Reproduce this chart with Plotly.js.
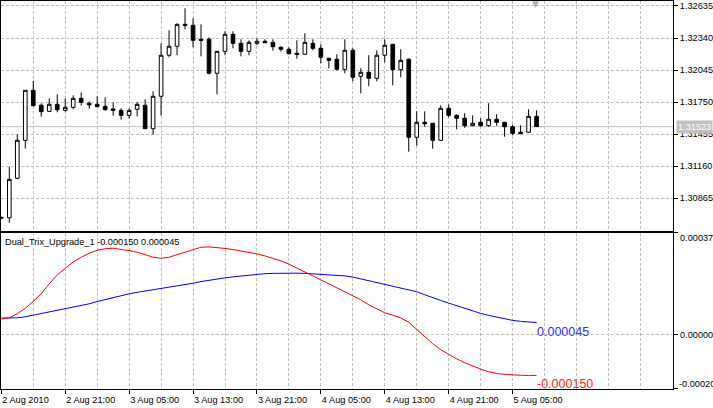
<!DOCTYPE html>
<html>
<head>
<meta charset="utf-8">
<script src="https://cdn.plot.ly/plotly-3.0.1.min.js"></script>
<style>
html,body{margin:0;padding:0;background:#fff;}
#chart{width:713px;height:408px;}
</style>
</head>
<body>
<div id="chart"></div>
<script>
// ---- data (H1 bars, 2 Aug 2010 13:00 .. 5 Aug 2010 08:00) ----
const barIndex = Array.from({length: 68}, (_, i) => i);

const openP = [
1.30687, 1.30683, 1.31047, 1.31397, 1.31858, 1.31720, 1.31664, 1.31729, 1.31673, 1.31701,
1.31784, 1.31738, 1.31729, 1.31710, 1.31686, 1.31673, 1.31627, 1.31683, 1.31720, 1.31504,
1.31803, 1.32181, 1.32264, 1.32466, 1.32457, 1.32328, 1.32328, 1.32015, 1.32217, 1.32374,
1.32291, 1.32217, 1.32291, 1.32310, 1.32300, 1.32254, 1.32236, 1.32199, 1.32190, 1.32291,
1.32245, 1.32153, 1.32144, 1.32051, 1.32227, 1.31987, 1.32024, 1.31969, 1.32181, 1.32282,
1.32048, 1.32144, 1.31425, 1.31563, 1.31554, 1.31397, 1.31692, 1.31627, 1.31600, 1.31532,
1.31563, 1.31532, 1.31591, 1.31563, 1.31522, 1.31471, 1.31471, 1.31618];

const highP = [
1.30694, 1.31154, 1.31452, 1.31860, 1.31944, 1.31738, 1.31784, 1.31821, 1.31780, 1.31812,
1.31839, 1.31756, 1.31803, 1.31793, 1.31747, 1.31692, 1.31692, 1.31747, 1.31775, 1.31849,
1.32291, 1.32411, 1.32474, 1.32614, 1.32522, 1.32466, 1.32347, 1.32220, 1.32402, 1.32402,
1.32328, 1.32319, 1.32337, 1.32328, 1.32328, 1.32264, 1.32254, 1.32319, 1.32383, 1.32328,
1.32282, 1.32156, 1.32190, 1.32328, 1.32245, 1.32061, 1.32181, 1.32227, 1.32328, 1.32285,
1.32236, 1.32153, 1.31664, 1.31664, 1.31556, 1.31720, 1.31729, 1.31637, 1.31646, 1.31627,
1.31600, 1.31738, 1.31637, 1.31566, 1.31541, 1.31535, 1.31683, 1.31673];

const lowP = [
1.30671, 1.30637, 1.31040, 1.31320, 1.31713, 1.31615, 1.31660, 1.31655, 1.31661, 1.31683,
1.31716, 1.31688, 1.31702, 1.31670, 1.31624, 1.31587, 1.31596, 1.31618, 1.31501, 1.31449,
1.31624, 1.32162, 1.32181, 1.32420, 1.32254, 1.32171, 1.32005, 1.31821, 1.32181, 1.32245,
1.32171, 1.32181, 1.32273, 1.32291, 1.32223, 1.32214, 1.32190, 1.32149, 1.32187, 1.32227,
1.32107, 1.32061, 1.32042, 1.32015, 1.31941, 1.31830, 1.31895, 1.31941, 1.32116, 1.31904,
1.31978, 1.31292, 1.31347, 1.31522, 1.31320, 1.31394, 1.31609, 1.31498, 1.31513, 1.31529,
1.31522, 1.31522, 1.31532, 1.31430, 1.31443, 1.31455, 1.31468, 1.31520];

const closeP = [
1.30681, 1.31037, 1.31397, 1.31858, 1.31716, 1.31661, 1.31729, 1.31679, 1.31701, 1.31784,
1.31747, 1.31725, 1.31707, 1.31679, 1.31673, 1.31627, 1.31673, 1.31729, 1.31504, 1.31803,
1.32181, 1.32264, 1.32466, 1.32457, 1.32319, 1.32319, 1.32015, 1.32217, 1.32374, 1.32291,
1.32217, 1.32300, 1.32310, 1.32297, 1.32260, 1.32236, 1.32195, 1.32190, 1.32300, 1.32245,
1.32162, 1.32134, 1.32051, 1.32227, 1.31978, 1.32024, 1.31969, 1.32181, 1.32273, 1.32048,
1.32134, 1.31425, 1.31563, 1.31550, 1.31397, 1.31692, 1.31627, 1.31600, 1.31532, 1.31554,
1.31532, 1.31591, 1.31563, 1.31522, 1.31461, 1.31458, 1.31618, 1.31523];

// Dual TRIX lines
const trixFast = [
0.0000577, 0.0000625, 0.0000772, 0.0000974, 0.0001232, 0.0001508, 0.0001875, 0.0002206, 0.0002445, 0.0002684,
0.0002857, 0.0003004, 0.0003114, 0.0003170, 0.0003188, 0.0003151, 0.0003103, 0.0003041, 0.0002953, 0.0002857,
0.0002820, 0.0002857, 0.0002953, 0.0003052, 0.0003144, 0.0003225, 0.0003236, 0.0003217, 0.0003181, 0.0003140,
0.0003089, 0.0003041, 0.0002978, 0.0002905, 0.0002820, 0.0002721, 0.0002603, 0.0002464, 0.0002317, 0.0002169,
0.0002022, 0.0001875, 0.0001728, 0.0001570, 0.0001416, 0.0001287, 0.0001103, 0.0000949, 0.0000809, 0.0000721,
0.0000618, 0.0000460, 0.0000202, -0.0000074, -0.0000331, -0.0000552, -0.0000735, -0.0000890, -0.0001030, -0.0001151,
-0.0001269, -0.0001360, -0.0001427, -0.0001460, -0.0001485, -0.0001495, -0.0001500, -0.0001500];

const trixSlow = [
0.0000614, 0.0000614, 0.0000625, 0.0000662, 0.0000721, 0.0000772, 0.0000827, 0.0000882, 0.0000949, 0.0001007,
0.0001066, 0.0001140, 0.0001224, 0.0001298, 0.0001372, 0.0001445, 0.0001508, 0.0001563, 0.0001611, 0.0001644,
0.0001680, 0.0001728, 0.0001776, 0.0001839, 0.0001897, 0.0001960, 0.0002011, 0.0002059, 0.0002096, 0.0002133,
0.0002169, 0.0002199, 0.0002228, 0.0002250, 0.0002261, 0.0002269, 0.0002269, 0.0002269, 0.0002261, 0.0002247,
0.0002232, 0.0002221, 0.0002206, 0.0002169, 0.0002125, 0.0002059, 0.0001993, 0.0001934, 0.0001871, 0.0001809,
0.0001743, 0.0001669, 0.0001585, 0.0001474, 0.0001360, 0.0001265, 0.0001166, 0.0001066, 0.0000967, 0.0000868,
0.0000787, 0.0000714, 0.0000644, 0.0000581, 0.0000529, 0.0000493, 0.0000460, 0.0000450];

const timeTickIdx = [0, 8, 16, 24, 32, 40, 48, 56, 64];
const timeTickText = ["2 Aug 2010", "2 Aug 21:00", "3 Aug 05:00", "3 Aug 13:00", "3 Aug 21:00",
                      "4 Aug 05:00", "4 Aug 13:00", "4 Aug 21:00", "5 Aug 05:00"];
const priceTicks = [1.30865, 1.31160, 1.31455, 1.31750, 1.32045, 1.32340, 1.32635];
const indTicks = [-0.00020, 0.00000, 0.00037];
const indicatorName = "Dual_Trix_Upgrade_1";

// ---- styling ----
const FONT = "Liberation Sans, Arial, sans-serif";
const FS = 9.2;
const GRID = "#c0c0c0";
const DASH = "3px,2px";
const last = barIndex.length - 1;
const lastClose = closeP[last];
const topDom = [0.4072, 1];
const botDom = [0, 0.4021];
const indRange = [-0.0002, 0.000375];

const traces = [
  {
    type: "candlestick", x: barIndex, open: openP, high: highP, low: lowP, close: closeP,
    xaxis: "x2", yaxis: "y",
    increasing: {line: {color: "#000", width: 1}, fillcolor: "#fff"},
    decreasing: {line: {color: "#000", width: 1}, fillcolor: "#000"},
    whiskerwidth: 0, hoverinfo: "skip", showlegend: false
  },
  {
    type: "scatter", mode: "lines", x: barIndex, y: trixSlow, xaxis: "x", yaxis: "y2",
    line: {color: "#0000ff", width: 1}, hoverinfo: "skip", showlegend: false
  },
  {
    type: "scatter", mode: "lines", x: barIndex, y: trixFast, xaxis: "x", yaxis: "y2",
    line: {color: "#ff0000", width: 1}, hoverinfo: "skip", showlegend: false
  }
];

const xCommon = {
  range: [-0.04, 84.08], showline: true, mirror: true, linecolor: "#000", linewidth: 1,
  showgrid: true, gridcolor: GRID, griddash: DASH, gridwidth: 1, zeroline: false,
  minor: {tick0: 0, dtick: 4, showgrid: true, gridcolor: GRID, griddash: DASH, gridwidth: 1, ticks: ""},
  rangeslider: {visible: false}, fixedrange: true
};

const layout = {
  width: 713, height: 408,
  margin: {l: 1, r: 40, t: 1, b: 19, pad: 0},
  paper_bgcolor: "#fff", plot_bgcolor: "#fff",
  font: {family: FONT, size: FS, color: "#000"},
  showlegend: false,
  boxgap: 0.35,
  xaxis: Object.assign({}, xCommon, {
    anchor: "y2", tickmode: "array", tickvals: timeTickIdx, ticktext: timeTickText,
    ticks: "outside", ticklen: 4, tickcolor: "#000", ticklabelposition: "outside right",
    ticklabelstandoff: 2,
    tickfont: {family: FONT, size: FS, color: "#000"}
  }),
  xaxis2: Object.assign({}, xCommon, {
    anchor: "y", matches: "x", tickmode: "array", tickvals: timeTickIdx,
    showticklabels: false, ticks: ""
  }),
  yaxis: {
    domain: topDom, anchor: "x2", side: "right", range: [1.30561, 1.32681],
    tickmode: "array", tickvals: priceTicks, ticktext: priceTicks.map(v => v.toFixed(5)),
    ticks: "outside", ticklen: 4, tickcolor: "#000",
    showline: true, mirror: true, linecolor: "#000", linewidth: 1,
    showgrid: true, gridcolor: GRID, griddash: DASH, zeroline: false, fixedrange: true
  },
  yaxis2: {
    domain: botDom, anchor: "x", side: "right", range: indRange,
    tickmode: "array", tickvals: [indRange[0], 0, indRange[1]], showticklabels: false,
    ticks: "outside", ticklen: 4, tickcolor: "#000",
    showline: true, mirror: true, linecolor: "#000", linewidth: 1,
    showgrid: true, gridcolor: GRID, griddash: DASH, zeroline: false, fixedrange: true
  },
  shapes: [
    {type: "line", xref: "paper", x0: 0, x1: 1, yref: "y", y0: lastClose, y1: lastClose,
     line: {color: "#c0c0c0", width: 1}, layer: "below"}
  ],
  annotations: [
    // current price label
    {xref: "paper", x: 1, xanchor: "left", xshift: 3, yref: "y", y: lastClose, yanchor: "middle",
     text: lastClose.toFixed(5), showarrow: false, bgcolor: "#c0c0c0", borderpad: 1,
     font: {family: FONT, size: FS, color: "#fff"}},
    // indicator panel labels
    {xref: "paper", x: 1, xanchor: "left", xshift: 5, yref: "y2", y: indRange[1], yanchor: "top", yshift: 2,
     text: indTicks[2].toFixed(5), showarrow: false, font: {family: FONT, size: FS, color: "#000"}},
    {xref: "paper", x: 1, xanchor: "left", xshift: 5, yref: "y2", y: indTicks[1], yanchor: "middle",
     text: indTicks[1].toFixed(5), showarrow: false, font: {family: FONT, size: FS, color: "#000"}},
    {xref: "paper", x: 1, xanchor: "left", xshift: 4, yref: "y2", y: indRange[0], yanchor: "bottom", yshift: -2,
     text: indTicks[0].toFixed(5), showarrow: false, font: {family: FONT, size: FS, color: "#000"}},
    // indicator title
    {xref: "paper", x: 0, xanchor: "left", xshift: 2, yref: "paper", y: botDom[1], yanchor: "top", yshift: -2,
     text: indicatorName + " " + trixFast[last].toFixed(6) + " " + trixSlow[last].toFixed(6),
     showarrow: false, font: {family: FONT, size: FS, color: "#000"}},
    // last values at line ends
    {xref: "x", x: barIndex[last], xanchor: "left", xshift: -2, yref: "y2", y: trixSlow[last], yanchor: "top", yshift: 0,
     text: trixSlow[last].toFixed(6), showarrow: false, font: {family: FONT, size: 12.5, color: "#3030ff"}},
    {xref: "x", x: barIndex[last], xanchor: "left", xshift: -2, yref: "y2", y: trixFast[last], yanchor: "top", yshift: 0,
     text: trixFast[last].toFixed(6), showarrow: false, font: {family: FONT, size: 12.5, color: "#ff2020"}},
    // shift marker
    {xref: "x2", x: barIndex[last], xanchor: "center", xshift: -1, yref: "paper", y: 1, yanchor: "top", yshift: 4,
     text: "\u25BC", showarrow: false, font: {family: "DejaVu Sans", size: 9, color: "#b0b0b0"}}
  ]
};

Plotly.newPlot("chart", traces, layout, {staticPlot: true, displayModeBar: false});
</script>
</body>
</html>
